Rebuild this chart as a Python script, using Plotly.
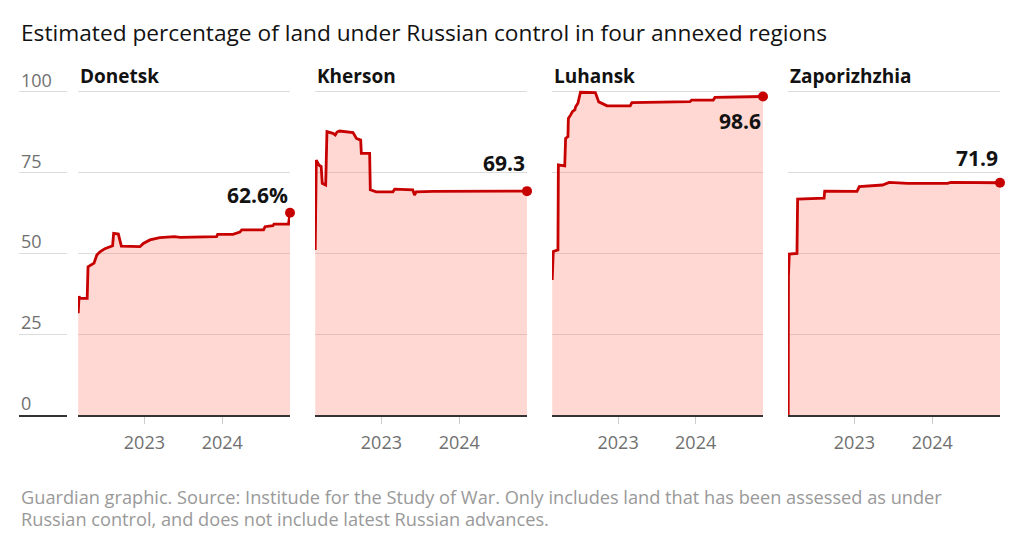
import plotly.graph_objects as go

# ---------------- data ----------------
regions = ["Donetsk", "Kherson", "Luhansk", "Zaporizhzhia"]
final_labels = ["62.6%", "69.3", "98.6", "71.9"]

donetsk_dates = ["2022-02-25", "2022-03-01", "2022-03-05", "2022-04-08", "2022-04-12", "2022-05-10",
                 "2022-05-23", "2022-06-07", "2022-06-30", "2022-07-23", "2022-08-05", "2022-08-10",
                 "2022-09-01", "2022-09-15", "2022-12-11", "2022-12-27", "2023-01-27", "2023-03-14",
                 "2023-05-22", "2023-06-17", "2023-12-05", "2023-12-10", "2024-02-20", "2024-03-23",
                 "2024-04-01", "2024-07-12", "2024-07-19", "2024-08-25", "2024-08-30", "2024-11-06",
                 "2024-11-13"]
donetsk_values = [31.5, 36.8, 36.1, 36.1, 45.9, 47.0,
                  49.5, 50.5, 51.5, 52.1, 52.4, 56.2,
                  56.0, 52.3, 52.1, 53.1, 54.2, 54.9,
                  55.2, 55.0, 55.2, 55.9, 55.9, 56.6,
                  57.3, 57.3, 58.3, 58.6, 59.1, 59.1,
                  62.6]

kherson_dates = ["2022-02-25", "2022-02-26", "2022-03-02", "2022-03-14", "2022-03-25", "2022-03-30",
                 "2022-04-15", "2022-04-21", "2022-05-19", "2022-05-30", "2022-06-07", "2022-06-19",
                 "2022-08-21", "2022-09-06", "2022-09-26", "2022-09-29", "2022-11-07", "2022-11-10",
                 "2022-12-08", "2023-02-24", "2023-03-04", "2023-05-28", "2023-06-05", "2023-06-13",
                 "2023-08-30", "2024-11-13"]
kherson_values = [51.1, 63.5, 78.9, 77.4, 76.9, 71.7,
                  71.2, 87.7, 87.2, 86.7, 87.6, 87.9,
                  87.4, 85.6, 85.1, 81.0, 81.0, 69.7,
                  69.1, 69.1, 69.9, 69.7, 68.1, 69.1,
                  69.2, 69.3]

luhansk_dates = ["2022-02-25", "2022-03-02", "2022-03-24", "2022-03-26", "2022-04-25", "2022-04-29",
                 "2022-05-10", "2022-05-12", "2022-05-23", "2022-05-31", "2022-06-12", "2022-06-15",
                 "2022-06-26", "2022-07-08", "2022-09-16", "2022-10-02", "2022-10-10", "2022-11-10",
                 "2023-02-27", "2023-03-07", "2023-12-05", "2023-12-13", "2024-03-24", "2024-04-01",
                 "2024-11-13"]
luhansk_values = [41.8, 50.6, 51.1, 77.4, 77.1, 85.6,
                  86.2, 91.8, 92.9, 93.9, 94.5, 95.4,
                  96.5, 99.9, 99.8, 96.9, 96.7, 95.7,
                  95.7, 96.7, 97.0, 97.5, 97.5, 98.3,
                  98.6]

zapo_dates = ["2022-02-25", "2022-02-26", "2022-03-02", "2022-04-07", "2022-04-10", "2022-08-12",
              "2022-08-15", "2023-01-13", "2023-01-24", "2023-05-13", "2023-06-13", "2023-09-07",
              "2024-03-12", "2024-03-28", "2024-11-13"]
zapo_values = [0.0, 42.8, 49.8, 50.0, 66.8, 67.1,
               69.3, 69.2, 70.7, 71.2, 72.0, 71.7,
               71.7, 72.0, 71.9]

series_dates = [donetsk_dates, kherson_dates, luhansk_dates, zapo_dates]
series_values = [donetsk_values, kherson_values, luhansk_values, zapo_values]

y_ticks = [0, 25, 50, 75, 100]
x_tick_dates = ["2023-01-01", "2024-01-01"]
x_tick_labels = ["2023", "2024"]

title_text = "Estimated percentage of land under Russian control in four annexed regions"
footer_1 = "Guardian graphic. Source: Institude for the Study of War. Only includes land that has been assessed as under"
footer_2 = "Russian control, and does not include latest Russian advances."

# ---------------- styling ----------------
W, H = 1024, 547
FONT = "Open Sans"
RED = "#c70000"
FILL = "rgba(255,100,80,0.25)"
GRID = "#dcdcdc"
GREY = "#707070"

panel_px = [(78, 290), (315, 527), (552, 763), (788, 1000)]
y_bottom_px, y_top_px = 415, 85.5
y_dom = [1 - y_bottom_px / H, 1 - y_top_px / H]
y_range = [0, 102]
x_range = ["2022-02-24", "2024-11-13"]
label_shift = [18, 28, -25, 25]

fig = go.Figure()
layout = dict(
    width=W, height=H,
    margin=dict(l=0, r=0, t=0, b=0),
    paper_bgcolor="white", plot_bgcolor="rgba(0,0,0,0)",
    showlegend=False,
    font=dict(family=FONT, color=GREY),
)
annotations = []

for i, (name, dts, vals) in enumerate(zip(regions, series_dates, series_values)):
    n = i + 1
    xa = "x" if n == 1 else f"x{n}"
    ya = "y" if n == 1 else f"y{n}"
    fig.add_trace(go.Scatter(
        x=dts, y=vals, xaxis=xa, yaxis=ya, mode="lines",
        line=dict(color=RED, width=2.8), fill="tozeroy", fillcolor=FILL,
        hoverinfo="skip",
    ))
    fig.add_trace(go.Scatter(
        x=[dts[-1]], y=[vals[-1]], xaxis=xa, yaxis=ya, mode="markers",
        marker=dict(color=RED, size=10), cliponaxis=False, hoverinfo="skip",
    ))
    x0, x1 = panel_px[i]
    layout[f"xaxis{'' if n == 1 else n}"] = dict(
        domain=[x0 / W, x1 / W], range=x_range, type="date",
        anchor=ya, showgrid=False, zeroline=False,
        showline=True, linecolor="#333333", linewidth=2,
        ticks="outside", ticklen=7, tickwidth=1, tickcolor="#cccccc",
        tickvals=x_tick_dates, ticktext=x_tick_labels,
        tickfont=dict(family=FONT, size=18, color=GREY),
        ticklabelstandoff=3,
    )
    layout[f"yaxis{'' if n == 1 else n}"] = dict(
        domain=y_dom, range=y_range, anchor=xa,
        tickvals=y_ticks, showticklabels=False, ticks="",
        showgrid=True, gridcolor=GRID, gridwidth=1, zeroline=False,
    )
    annotations.append(dict(
        text=f"<b>{name}</b>", xref="paper", yref="paper",
        x=x0 / W, y=1 - 76 / H, xanchor="left", yanchor="middle",
        showarrow=False, font=dict(family=FONT, size=19, color="#121212"),
    ))
    annotations.append(dict(
        text=f"<b>{final_labels[i]}</b>", xref=f"{xa} domain", yref=ya,
        x=1, y=vals[-1], xanchor="right", yanchor="middle", yshift=label_shift[i],
        showarrow=False, font=dict(family=FONT, size=21, color="#121212"),
    ))

# y-axis label stub
fig.add_trace(go.Scatter(x=[None], y=[None], xaxis="x5", yaxis="y5", mode="lines", hoverinfo="skip"))
layout["xaxis5"] = dict(domain=[19 / W, 67 / W], range=[0, 1], anchor="y5",
                        showgrid=False, zeroline=False, showticklabels=False,
                        showline=True, linecolor="#333333", linewidth=2)
layout["yaxis5"] = dict(domain=y_dom, range=y_range, anchor="x5", tickvals=y_ticks,
                        showticklabels=False, showgrid=True, gridcolor=GRID, zeroline=False)
for v in y_ticks:
    annotations.append(dict(
        text=str(v), xref="paper", yref="y5", x=19 / W, y=v, yshift=12,
        xanchor="left", yanchor="middle", showarrow=False,
        font=dict(family=FONT, size=18, color=GREY),
    ))

annotations.append(dict(
    text=title_text, xref="paper", yref="paper", x=19 / W, y=1 - 33 / H,
    xanchor="left", yanchor="middle", showarrow=False,
    font=dict(family=FONT, size=22.7, color="#121212"),
))
annotations.append(dict(
    text=footer_1, xref="paper", yref="paper", x=19 / W, y=1 - 497 / H,
    xanchor="left", yanchor="middle", showarrow=False,
    font=dict(family=FONT, size=18.2, color="#999999"),
))
annotations.append(dict(
    text=footer_2, xref="paper", yref="paper", x=19 / W, y=1 - 519 / H,
    xanchor="left", yanchor="middle", showarrow=False,
    font=dict(family=FONT, size=18.2, color="#999999"),
))

layout["annotations"] = annotations
fig.update_layout(**layout)
fig.write_html("out.html", config={"displayModeBar": False},
               post_script="document.body.style.margin='0';")
